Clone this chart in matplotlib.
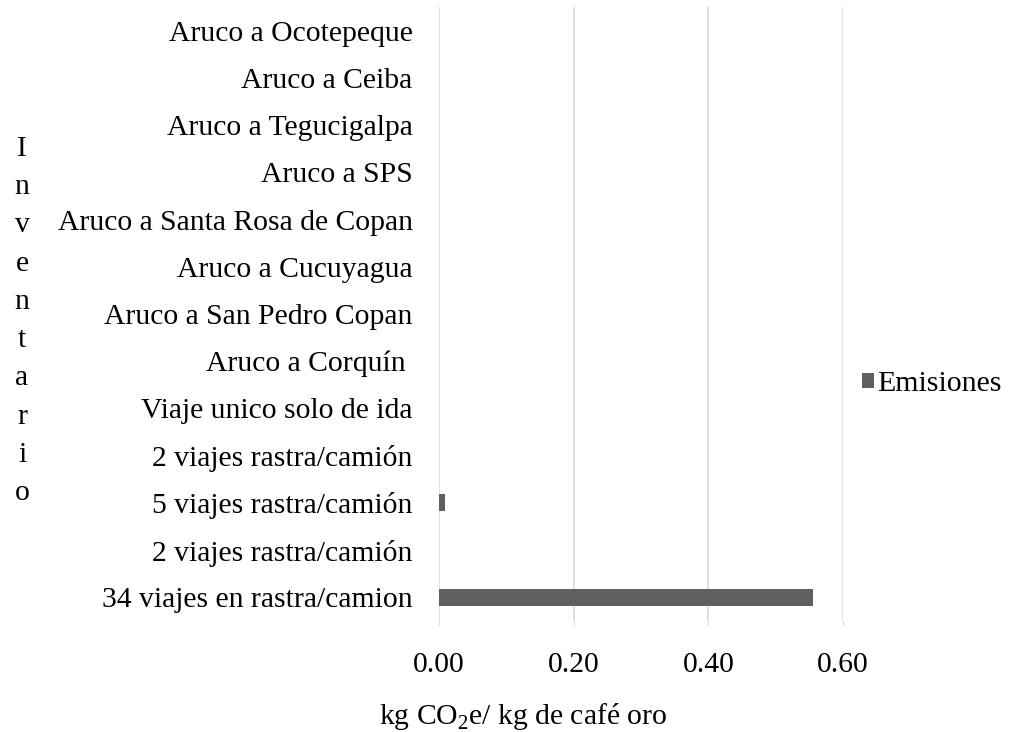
import matplotlib
matplotlib.use('Agg')
import matplotlib.pyplot as plt
import numpy as np
from matplotlib.ticker import FormatStrFormatter

plt.rcParams['font.family'] = ['Liberation Serif', 'DejaVu Serif']
plt.rcParams['mathtext.fontset'] = 'custom'
plt.rcParams['mathtext.rm'] = 'Liberation Serif'

# categories listed bottom to top
categorias = ['34 viajes en rastra/camion', '2 viajes rastra/camión',
              '5 viajes rastra/camión', '2 viajes rastra/camión',
              'Viaje unico solo de ida', 'Aruco a Corquín ',
              'Aruco a San Pedro Copan', 'Aruco a Cucuyagua',
              'Aruco a Santa Rosa de Copan', 'Aruco a SPS',
              'Aruco a Tegucigalpa', 'Aruco a Ceiba', 'Aruco a Ocotepeque']
emisiones = [0.555, 0.0, 0.009, 0.0, 0.0, 0.0, 0.0, 0.0, 0.0, 0.0, 0.0, 0.0, 0.0]
x_ticks = [0.0, 0.2, 0.4, 0.6]

fs = 21.3
fig = plt.figure(figsize=(10.09, 7.32), dpi=100)
ax = fig.add_axes([439/1009, 1 - 621/732, 404/1009, 614/732])

y = np.arange(len(categorias))
ax.barh(y, emisiones, height=0.36, color='#5f5f5f', label='Emisiones', zorder=3)

ax.set_yticks(y)
ax.set_yticklabels(categorias, fontsize=fs)
ax.set_ylim(-0.5, len(categorias) - 0.5)
ax.set_xlim(0, 0.6)
ax.set_xticks(x_ticks)
ax.xaxis.set_major_formatter(FormatStrFormatter('%.2f'))
ax.tick_params(axis='x', labelsize=fs, length=3, color='#d9d9d9', pad=19)
ax.tick_params(axis='y', length=0, pad=19)
ax.grid(axis='x', color='#d9d9d9', lw=1.2, zorder=0)
for s in ax.spines.values():
    s.set_visible(False)

fig.text(523/1009, 1 - 717/732, 'kg CO$_2$e/ kg de café oro', fontsize=fs,
         ha='center', va='center')

letras = list('Inventario')
ys = np.linspace(149, 493, len(letras))
for l, yy in zip(letras, ys):
    fig.text(22/1009, 1 - yy/732, l, fontsize=fs, ha='center', va='center')

ax.legend(loc='center left', bbox_to_anchor=(862/1009, 1 - 384/732),
          bbox_transform=fig.transFigure, frameon=False, fontsize=21.5,
          handlelength=0.4, handleheight=0.4, handletextpad=0.1,
          borderpad=0, borderaxespad=0)

fig.savefig('out.png', dpi=100)
